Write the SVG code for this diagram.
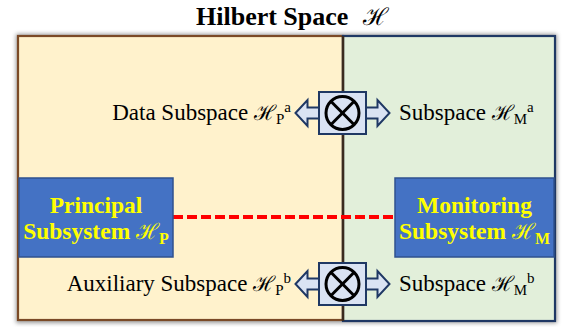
<svg xmlns="http://www.w3.org/2000/svg" width="569" height="327" viewBox="0 0 569 327">
<defs>
<filter id="sh" x="-10%" y="-10%" width="120%" height="120%">
<feGaussianBlur stdDeviation="2"/>
</filter>
<style>
.t{font-family:"Liberation Serif","DejaVu Serif",serif;fill:#000}
.lab{font-size:23px}
.node{font-family:"Liberation Serif","DejaVu Serif",serif;font-weight:bold;font-size:23.5px;fill:#ffff00;text-anchor:middle}
.box{fill:#4472c4;stroke:#2f528f;stroke-width:1.5}
.sym{fill:#dae3f3;stroke:#1f3864;stroke-width:2;stroke-linejoin:miter}
.circ{fill:none;stroke:#000;stroke-width:3}
.scr{font-family:"DejaVu Serif",serif;font-style:normal;font-weight:normal}
</style>
<g id="xsym">
<polygon class="sym" points="-47,0 -35,-13 -35,-5.5 35,-5.5 35,-13 47,0 35,13 35,5.5 -35,5.5 -35,13"/>
<rect class="sym" x="-23.5" y="-21" width="47" height="42"/>
<circle class="circ" cx="0" cy="0" r="16.5"/>
<line class="circ" x1="-11.7" y1="-11.7" x2="11.7" y2="11.7"/>
<line class="circ" x1="11.7" y1="-11.7" x2="-11.7" y2="11.7"/>
</g>
</defs>

<text class="t" x="196" y="25" font-size="26" font-weight="bold">Hilbert Space<tspan class="scr" x="363" font-size="24">ℋ</tspan></text>

<g id="space">
<rect x="16" y="34" width="541" height="289" fill="#808080" filter="url(#sh)" opacity="0.8"/>
<g id="region-P">
<rect x="18" y="36" width="325" height="284" fill="#fff2cc" stroke="#7b4a26" stroke-width="2.2"/>
</g>
<g id="region-M">
<rect x="343" y="36" width="212" height="285" fill="#e2efda" stroke="#1f3864" stroke-width="2.2"/>
<line x1="343" y1="36" x2="343" y2="321" stroke="#3a2a1e" stroke-width="2.5"/>
</g>
</g>

<g id="connectors">
<line x1="173" y1="217" x2="395" y2="217" stroke="#ff0000" stroke-width="4" stroke-dasharray="10 4"/>
</g>

<g id="principal">
<rect class="box" x="19" y="178" width="154" height="79"/>
<text class="node" x="96" y="213">Principal</text>
<text class="node" x="96" y="239">Subsystem <tspan class="scr" font-size="22">ℋ</tspan><tspan font-size="16" dy="5">P</tspan></text>
</g>

<g id="monitoring">
<rect class="box" x="395" y="178" width="159" height="79"/>
<text class="node" x="474.5" y="213">Monitoring</text>
<text class="node" x="474.5" y="239">Subsystem <tspan class="scr" font-size="22">ℋ</tspan><tspan font-size="16" dy="5">M</tspan></text>
</g>

<g id="data-subspace">
<text class="t lab" x="291" y="120" text-anchor="end">Data Subspace <tspan class="scr" font-size="21">ℋ</tspan><tspan font-size="15" dy="4">P</tspan><tspan font-size="15" dy="-12">a</tspan></text>
</g>
<g id="subspace-Ma">
<text class="t lab" x="399" y="120">Subspace <tspan class="scr" font-size="21">ℋ</tspan><tspan font-size="15" dy="4">M</tspan><tspan font-size="15" dy="-12">a</tspan></text>
</g>
<g id="aux-subspace">
<text class="t lab" x="291" y="291" text-anchor="end">Auxiliary Subspace <tspan class="scr" font-size="21">ℋ</tspan><tspan font-size="15" dy="4">P</tspan><tspan font-size="15" dy="-12">b</tspan></text>
</g>
<g id="subspace-Mb">
<text class="t lab" x="399" y="291">Subspace <tspan class="scr" font-size="21">ℋ</tspan><tspan font-size="15" dy="4">M</tspan><tspan font-size="15" dy="-12">b</tspan></text>
</g>

<g id="tensor-a"><use href="#xsym" x="342.5" y="113"/></g>
<g id="tensor-b"><use href="#xsym" x="342.5" y="284"/></g>
</svg>
